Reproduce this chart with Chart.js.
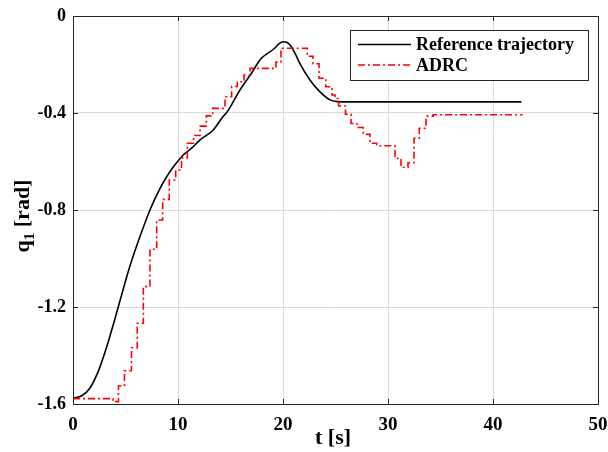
<!DOCTYPE html>
<html><head><meta charset="utf-8">
<script src="https://cdn.jsdelivr.net/npm/chart.js@4/dist/chart.umd.min.js"></script>
<style>html,body{margin:0;padding:0;background:#fff}#wrap{width:608px;height:452px}</style>
</head><body><div id="wrap"><canvas id="c" width="608" height="452"></canvas></div>
<script>
// Reference trajectory (smooth)
const refT = [0, 0.8, 1.6, 2.5, 3.3, 3.84, 4.5, 5.43, 6.5, 7.33, 8.3, 8.92, 9.6, 10.5, 11.3, 12.1, 13.36, 14.2, 14.8, 15.9, 17.0, 17.8, 18.1, 19.2, 19.6, 20.0, 20.35, 20.67, 21.1, 21.6, 22.57, 23.5, 24.48, 25.2, 26.0, 42.7];
const refQ = [-1.575, -1.567, -1.535, -1.455, -1.352, -1.272, -1.17, -1.03, -0.895, -0.80, -0.71, -0.663, -0.62, -0.573, -0.545, -0.511, -0.47, -0.42, -0.388, -0.305, -0.236, -0.181, -0.168, -0.133, -0.115, -0.106, -0.108, -0.12, -0.15, -0.195, -0.264, -0.312, -0.346, -0.353, -0.354, -0.354];
// ADRC output (held samples)
const adrcT = [0, 3.81, 4.33, 4.90, 5.57, 6.12, 6.70, 7.33, 7.97, 8.54, 9.17, 9.78, 10.33, 10.89, 11.48, 12.10, 12.70, 13.30, 14.48, 15.11, 15.65, 16.29, 16.86, 19.33, 19.81, 22.31, 22.86, 23.43, 24.07, 24.67, 24.95, 25.30, 25.95, 26.48, 27.05, 27.65, 28.29, 28.92, 30.67, 31.24, 31.90, 32.48, 32.98, 33.62, 34.31, 42.83];
const adrcQ = [-1.578, -1.59, -1.526, -1.463, -1.368, -1.267, -1.116, -0.962, -0.841, -0.756, -0.676, -0.635, -0.585, -0.525, -0.493, -0.454, -0.412, -0.381, -0.333, -0.291, -0.271, -0.243, -0.216, -0.19, -0.133, -0.166, -0.197, -0.257, -0.292, -0.326, -0.34, -0.371, -0.405, -0.443, -0.46, -0.488, -0.525, -0.535, -0.587, -0.624, -0.605, -0.504, -0.463, -0.413, -0.407, -0.407];
const xTicks = [0, 10, 20, 30, 40, 50];
const yTicks = [-1.6, -1.2, -0.8, -0.4, 0];
const seriesLabels = ['Reference trajectory', 'ADRC'];
const xTitle = 't [s]';
const yTitleMain = 'q';
const yTitleSub = '1';
const yTitleRest = ' [rad]';

const FONT = '"Liberation Serif", "Times New Roman", serif';

const refData = refT.map((t, i) => ({x: t, y: refQ[i]}));
const adrcData = adrcT.map((t, i) => ({x: t, y: adrcQ[i]}));

const decor = {
  id: 'decor',
  afterDraw(chart) {
    const ctx = chart.ctx;
    const a = chart.chartArea;
    const xs = chart.scales.x, ys = chart.scales.y;
    ctx.save();
    // box
    ctx.strokeStyle = '#262626';
    ctx.lineWidth = 1;
    ctx.strokeRect(Math.round(a.left) + 0.5, Math.round(a.top) + 0.5, Math.round(a.right - a.left), Math.round(a.bottom - a.top));
    // inward ticks
    const tl = 5;
    ctx.beginPath();
    xTicks.forEach(v => {
      const px = Math.round(xs.getPixelForValue(v)) + 0.5;
      ctx.moveTo(px, a.bottom); ctx.lineTo(px, a.bottom - tl);
      ctx.moveTo(px, a.top); ctx.lineTo(px, a.top + tl);
    });
    yTicks.forEach(v => {
      const py = Math.round(ys.getPixelForValue(v)) + 0.5;
      ctx.moveTo(a.left, py); ctx.lineTo(a.left + tl, py);
      ctx.moveTo(a.right, py); ctx.lineTo(a.right - tl, py);
    });
    ctx.stroke();

    // legend
    const lx = 350, ly = 30, lw = 238, lh = 50;
    ctx.fillStyle = '#fff';
    ctx.fillRect(lx, ly, lw, lh);
    ctx.strokeStyle = '#262626';
    ctx.strokeRect(lx + 0.5, ly + 0.5, lw, lh);
    const rows = [44.5, 65];
    chart.data.datasets.slice().sort((p, q) => p.legendIndex - q.legendIndex).forEach((ds, i) => {
      const y = rows[i];
      ctx.save();
      ctx.strokeStyle = ds.borderColor;
      ctx.lineWidth = ds.borderWidth;
      ctx.setLineDash(ds.borderDash || []);
      ctx.beginPath();
      ctx.moveTo(358, y); ctx.lineTo(411, y);
      ctx.stroke();
      ctx.restore();
      ctx.fillStyle = '#000';
      ctx.font = 'bold 18px ' + FONT;
      ctx.textAlign = 'left';
      ctx.textBaseline = 'middle';
      ctx.fillText(ds.label, 416, y + 1);
    });

    // x title
    ctx.fillStyle = '#000';
    ctx.font = 'bold 22px ' + FONT;
    ctx.textAlign = 'center';
    ctx.textBaseline = 'middle';
    ctx.fillText(xTitle, 333, 438);

    // y title with subscript
    ctx.save();
    ctx.translate(29, 216);
    ctx.rotate(-Math.PI / 2);
    ctx.textAlign = 'left';
    ctx.textBaseline = 'alphabetic';
    const fMain = 'bold 22px ' + FONT, fSub = 'bold 15px ' + FONT;
    ctx.font = fMain; const w1 = ctx.measureText(yTitleMain).width; const w3 = ctx.measureText(yTitleRest).width;
    ctx.font = fSub; const w2 = ctx.measureText(yTitleSub).width;
    let x0 = -(w1 + w2 + w3) / 2;
    ctx.font = fMain; ctx.fillText(yTitleMain, x0, 0);
    ctx.font = fSub; ctx.fillText(yTitleSub, x0 + w1, 5);
    ctx.font = fMain; ctx.fillText(yTitleRest, x0 + w1 + w2, 0);
    ctx.restore();
    ctx.restore();
  }
};

new Chart(document.getElementById('c'), {
  type: 'line',
  data: {
    datasets: [
      {label: seriesLabels[0], legendIndex: 0, order: 1, data: refData, borderColor: '#000000', borderWidth: 1.6, pointRadius: 0, fill: false, cubicInterpolationMode: 'monotone', tension: 0.4},
      {label: seriesLabels[1], legendIndex: 1, order: 0, data: adrcData, borderColor: '#ff0000', borderWidth: 1.6, borderDash: [7, 3, 2, 3], pointRadius: 0, fill: false, stepped: 'before'}
    ]
  },
  options: {
    responsive: false,
    animation: false,
    devicePixelRatio: 1,
    layout: {padding: {top: 16, right: 10, left: 0, bottom: 0}},
    plugins: {legend: {display: false}, tooltip: {enabled: false}},
    scales: {
      x: {
        type: 'linear', min: 0, max: 50,
        afterBuildTicks: s => { s.ticks = xTicks.map(v => ({value: v})); },
        afterFit: s => { s.height = 48; s.paddingLeft = 0; s.paddingRight = 0; },
        grid: {color: '#dadada', lineWidth: 1, drawTicks: false},
        border: {display: false},
        ticks: {color: '#000', padding: 10, maxRotation: 0, font: {family: FONT, size: 19, weight: 'bold'}, callback: v => String(v)}
      },
      y: {
        type: 'linear', min: -1.6, max: 0,
        afterBuildTicks: s => { s.ticks = yTicks.map(v => ({value: v})); },
        afterFit: s => { s.width = 73; s.paddingTop = 0; s.paddingBottom = 0; },
        grid: {color: '#dadada', lineWidth: 1, drawTicks: false},
        border: {display: false},
        ticks: {color: '#000', padding: 7, font: {family: FONT, size: 18, weight: 'bold'}, callback: v => String(Math.round(v * 10) / 10)}
      }
    }
  },
  plugins: [decor]
});
</script></body></html>
